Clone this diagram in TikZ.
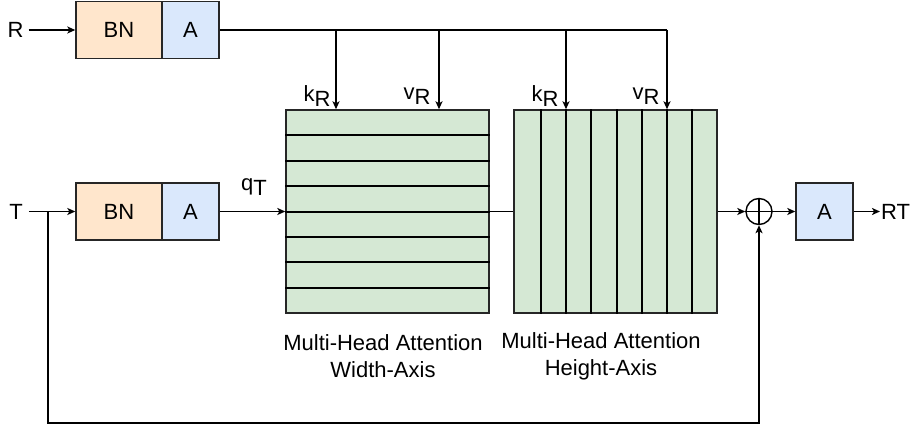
\documentclass[tikz,border=0pt]{standalone}
\usepackage{fontspec}
\setmainfont{Liberation Sans}
\usetikzlibrary{arrows.meta}

\definecolor{bnfill}{HTML}{FFE6CC}
\definecolor{afill}{HTML}{DAE8FC}
\definecolor{mhfill}{HTML}{D5E8D4}

% label with a lowered (same-size) index letter
\newcommand{\lowidx}[2]{#1\raisebox{-0.22em}{#2}}

\begin{document}
\begin{tikzpicture}[x=1pt, y=-1pt,
  every node/.style={font=\fontsize{22}{27}\selectfont, text=black},
  blk/.style={draw=black!85, line width=1.4pt, minimum height=57pt, inner sep=0pt},
  bnbox/.style={blk, fill=bnfill, minimum width=86pt},
  abox/.style={blk, fill=afill, minimum width=57pt},
  mhbox/.style={draw=black!85, line width=1.4pt, fill=mhfill,
    minimum width=203pt, minimum height=203pt, inner sep=0pt},
  conn/.style={line width=1.6pt, draw=black},
  arr/.style={conn, -{Stealth[length=8pt, width=7pt, inset=2pt]}},
  grid/.style={line width=1.6pt, draw=black},
  lbl/.style={inner sep=0pt},
  caption/.style={align=center, inner sep=0pt}]

\useasboundingbox (0,0) rectangle (910,427);

% --- top branch: R -> BN -> A
\node[lbl, inner xsep=5pt] (r) at (15.5,30) {R};
\node[bnbox] (bn1) at (119,30) {BN};
\node[abox] (a1) at (190.5,30) {A};

% --- main branch: T -> BN -> A
\node[lbl, inner xsep=6pt] (t) at (16,211.5) {T};
\node[bnbox] (bn2) at (119,211.5) {BN};
\node[abox] (a2) at (190.5,211.5) {A};

% --- attention blocks: rows for the width axis, columns for the height axis
\node[mhbox] (wa) at (387.5,211.5) {};
\node[mhbox] (ha) at (615.5,211.5) {};
\foreach \yy in {135,161,186,212,237,262,288}
  \draw[grid] (wa.west |- 0,\yy) -- (wa.east |- 0,\yy);
\foreach \xx in {541,566,591,617,642,667,692}
  \draw[grid] (ha.north -| \xx,0) -- (ha.south -| \xx,0);

% --- sum and output
\node[circle, draw=black, line width=1.4pt, minimum size=26pt, inner sep=0pt] (sum) at (759,211.5) {};
\draw[line width=1.4pt] (sum.north) -- (sum.south) (sum.west) -- (sum.east);
\node[abox] (a3) at (824.5,211.5) {A};
\node[anchor=west, inner sep=1pt] (rt) at (880,211.5) {RT};

% --- key / value taps from the top branch
\coordinate (k1) at (336,30);
\coordinate (v1) at (439,30);
\coordinate (k2) at (566,30);
\coordinate (v2) at (667,30);
\draw[conn] (a1.east) -- (v2);
\draw[arr] (k1) -- (k1 |- wa.north);
\draw[arr] (v1) -- (v1 |- wa.north);
\draw[arr] (k2) -- (k2 |- ha.north);
\draw[arr] (v2) -- (v2 |- ha.north);

\node[lbl] (lk1) at (317,96) {\lowidx{k}{R}};
\node[lbl] (lv1) at (417,96) {\lowidx{v}{R}};
\node[lbl] (lk2) at (545,96) {\lowidx{k}{R}};
\node[lbl] (lv2) at (646,96) {\lowidx{v}{R}};

% --- main flow
\draw[arr] (r) -- (bn1);
\draw[arr] (t) -- (bn2);
\draw[arr] (a2.east) -- (wa.west);
\node[lbl] (lq) at (254,187) {\lowidx{q}{T}};
\draw[conn] (wa.east) -- (ha.west);
\draw[arr] (ha.east) -- (sum.west);
\draw[arr] (sum.east) -- (a3.west);
\draw[arr] (a3.east) -- (rt.west);

% --- residual connection
\coordinate (fbtop) at (48,211.5);
\coordinate (fbbot) at (48,423);
\draw[arr] (fbtop) -- (fbbot) -| (sum.south);

% --- captions
\node[caption] (cw) at (383,356) {Multi-Head Attention\\Width-Axis};
\node[caption] (ch) at (601,356) {Multi-Head Attention\\Height-Axis};

\end{tikzpicture}
\end{document}
